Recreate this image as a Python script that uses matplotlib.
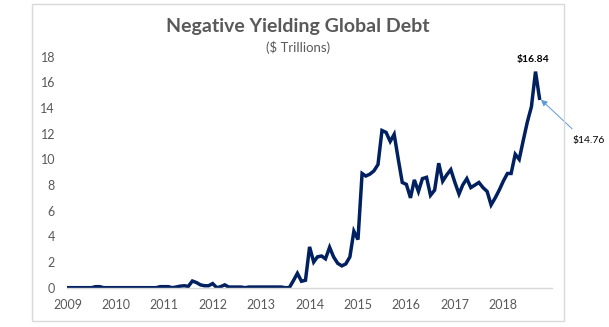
"""
Negative yielding global debt, $ trillions, monthly 2009-2018.
"""

import numpy as np
import pandas as pd
import matplotlib
matplotlib.use('Agg')
from matplotlib import pyplot as plt
import matplotlib.dates as mdates
from matplotlib.patches import Rectangle

# %%
# Data (monthly, Jan 2009 - Oct 2018)
start_month = '2009-01-01'
debt_trillions = [
    0.0, 0.0, 0.0, 0.0, 0.0, 0.0, 0.0, 0.08, 0.08, 0.0, 0.0, 0.0,        # 2009
    0.0, 0.0, 0.0, 0.0, 0.0, 0.0, 0.0, 0.0, 0.0, 0.0, 0.0, 0.08,         # 2010
    0.08, 0.08, 0.0, 0.05, 0.12, 0.15, 0.1, 0.52, 0.4, 0.22, 0.15, 0.15,  # 2011
    0.32, 0.0, 0.08, 0.22, 0.05, 0.05, 0.05, 0.05, 0.0, 0.05, 0.05, 0.05,  # 2012
    0.05, 0.05, 0.05, 0.05, 0.05, 0.05, 0.0, 0.0, 0.55, 1.12, 0.5, 0.58,  # 2013
    3.18, 2.0, 2.4, 2.47, 2.25, 3.15, 2.4, 1.9, 1.7, 1.85, 2.4, 4.4,      # 2014
    3.75, 8.9, 8.7, 8.85, 9.1, 9.6, 12.25, 12.1, 11.4, 11.95, 10.0, 8.2,  # 2015
    8.05, 7.0, 8.4, 7.5, 8.5, 8.6, 7.2, 7.6, 9.7, 8.3, 8.8, 9.2,          # 2016
    8.2, 7.3, 8.0, 8.5, 7.8, 8.0, 8.2, 7.8, 7.5, 6.45, 7.0, 7.6,          # 2017
    8.3, 8.9, 8.9, 10.4, 10.0, 11.5, 12.9, 14.1, 16.84, 14.76,            # 2018
]
year_ticks = list(range(2009, 2019))
y_ticks = [0, 2, 4, 6, 8, 10, 12, 14, 16, 18]

title = 'Negative Yielding Global Debt'
subtitle = '($ Trillions)'

line_color = '#002060'
text_gray = '#595959'
arrow_color = '#5b9bd5'


def main():
    plt.rcParams['font.family'] = ['Lato', 'DejaVu Sans']
    dates = pd.date_range(start_month, periods=len(debt_trillions), freq='MS')

    fig = plt.figure(figsize=(6.09, 3.27), dpi=100)
    fig.patches.append(Rectangle((0.0525, 0.0183), 0.8736, 0.9694, transform=fig.transFigure,
                                 fill=False, edgecolor='#d9d9d9', linewidth=1.0))
    ax = fig.add_axes([0.1108, 0.1202, 0.7951, 0.7064])

    ax.plot(dates, debt_trillions, color=line_color, linewidth=2.5, solid_joinstyle='miter')

    ax.set_ylim(0, 18)
    ax.set_yticks(y_ticks)
    ax.set_xlim(pd.Timestamp('2009-01-01'), pd.Timestamp('2019-01-01'))
    ax.set_xticks([pd.Timestamp(f'{y}-01-01') for y in year_ticks])
    ax.xaxis.set_major_formatter(mdates.DateFormatter('%Y'))

    for side in ('top', 'right', 'left'):
        ax.spines[side].set_visible(False)
    ax.spines['bottom'].set_color('#d9d9d9')
    ax.spines['bottom'].set_linewidth(1.0)
    ax.tick_params(axis='both', length=0, labelsize=9, labelcolor=text_gray)
    ax.tick_params(axis='y', pad=9)
    ax.tick_params(axis='x', pad=8)

    fig.text(0.489, 0.918, title, ha='center', va='center', fontsize=14,
             fontweight='bold', color=text_gray)
    fig.text(0.489, 0.855, subtitle, ha='center', va='center', fontsize=9.5, color=text_gray)

    # peak and latest value labels
    peak_i = int(np.argmax(debt_trillions))
    ax.annotate(f'${debt_trillions[peak_i]:.2f}', xy=(dates[peak_i], debt_trillions[peak_i]),
                xytext=(-2, 9), textcoords='offset points', ha='center', va='center',
                fontsize=7.5, fontweight='bold', color='black', annotation_clip=False)
    ax.annotate('', xy=(dates[-1], debt_trillions[-1]), xytext=(23.5, -22),
                textcoords='offset points', annotation_clip=False,
                arrowprops=dict(arrowstyle='-|>', color=arrow_color, lw=0.7,
                                mutation_scale=9, shrinkA=0, shrinkB=1.5))
    ax.annotate(f'${debt_trillions[-1]:.2f}', xy=(dates[-1], debt_trillions[-1]),
                xytext=(35.5, -30.7), textcoords='offset points', ha='center', va='center',
                fontsize=7.5, color='black', annotation_clip=False)

    fig.savefig('out.png', dpi=100)


if __name__ == '__main__':
    main()
